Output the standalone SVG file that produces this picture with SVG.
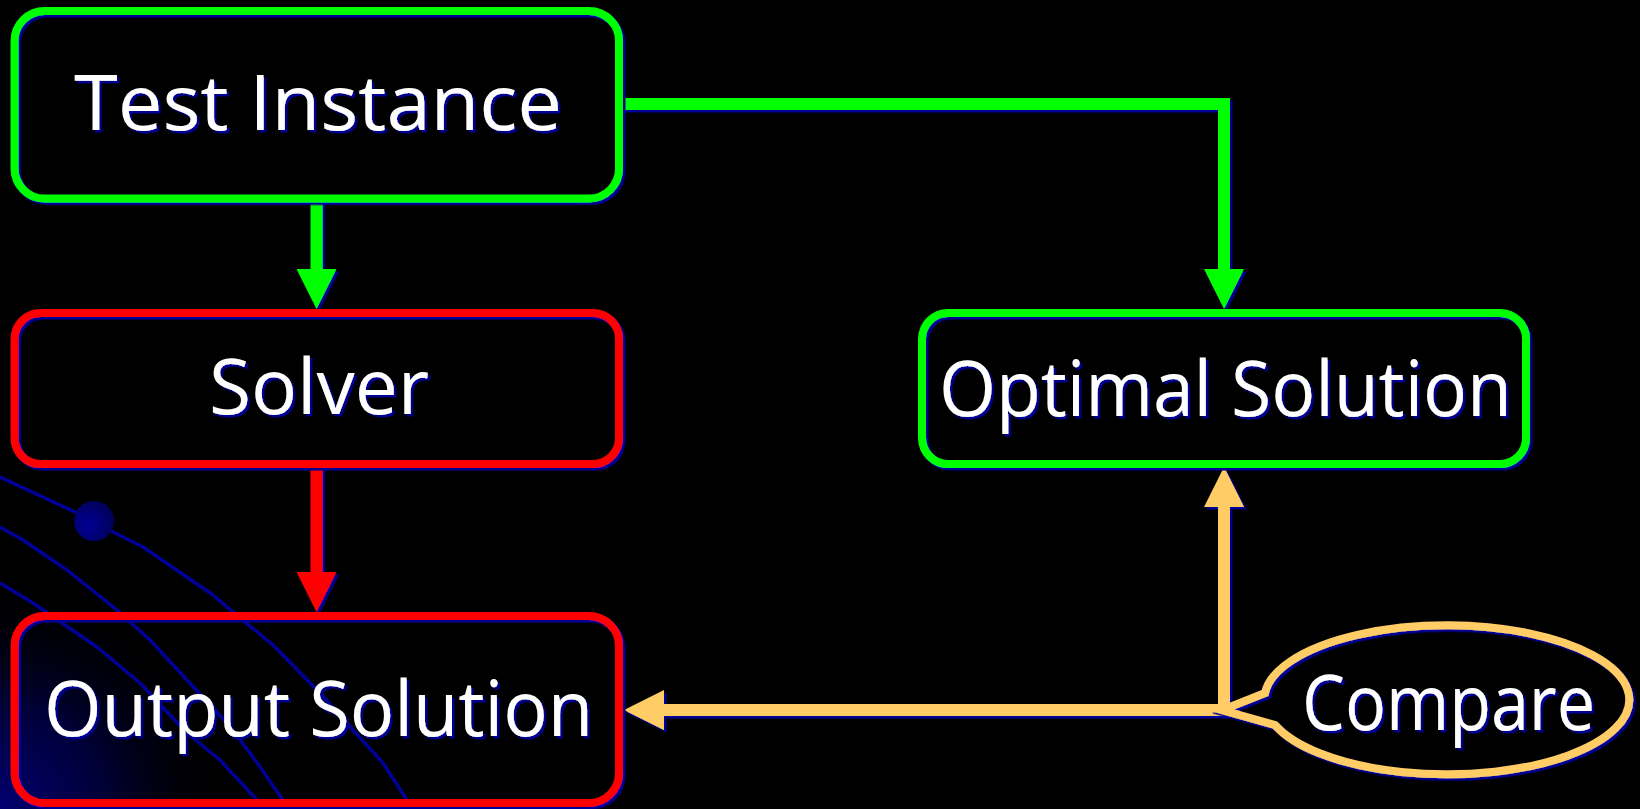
<svg xmlns="http://www.w3.org/2000/svg" width="1640" height="809" viewBox="0 0 1640 809">
  <defs>
    <style>
      .box { fill: none; stroke-width: 8; }
      .green { stroke: #00ff00; }
      .red { stroke: #ff0000; }
      .orange { stroke: #ffcc66; }
      .label { font-family: "Open Sans", "DejaVu Sans", sans-serif; font-size: 76px; fill: #ffffff; }
      .conn { fill: none; stroke-width: 12; stroke-linejoin: miter; stroke-linecap: butt; }
      .deco { fill: none; stroke: #000099; stroke-width: 3.5; stroke-linejoin: round; }
    </style>
    <!-- navy offset shadow shared by every shape and label -->
    <filter id="shadow" filterUnits="userSpaceOnUse" x="0" y="0" width="1640" height="809">
      <feDropShadow dx="2.5" dy="2.5" stdDeviation="0" flood-color="#000099" flood-opacity="1"/>
    </filter>
    <radialGradient id="cornerGlow" gradientUnits="userSpaceOnUse" cx="0" cy="809" r="230">
      <stop offset="0" stop-color="#000070"/>
      <stop offset="0.45" stop-color="#000038"/>
      <stop offset="1" stop-color="#000000" stop-opacity="0"/>
    </radialGradient>
    <radialGradient id="dotFill" cx="0.35" cy="0.6" r="0.7">
      <stop offset="0" stop-color="#000095"/>
      <stop offset="1" stop-color="#000055"/>
    </radialGradient>
    <marker id="headGreen" markerUnits="userSpaceOnUse" markerWidth="40" markerHeight="40" refX="0" refY="20" orient="auto" viewBox="0 0 40 40">
      <path d="M0,0 L40,20 L0,40 Z" fill="#00ff00"/>
    </marker>
    <marker id="headRed" markerUnits="userSpaceOnUse" markerWidth="40" markerHeight="40" refX="0" refY="20" orient="auto" viewBox="0 0 40 40">
      <path d="M0,0 L40,20 L0,40 Z" fill="#ff0000"/>
    </marker>
    <marker id="headOrange" markerUnits="userSpaceOnUse" markerWidth="40" markerHeight="40" refX="0" refY="20" orient="auto" viewBox="0 0 40 40">
      <path d="M0,0 L40,20 L0,40 Z" fill="#ffcc66"/>
    </marker>
  </defs>

  <!-- backdrop -->
  <rect x="0" y="0" width="1640" height="809" fill="#000000"/>
  <rect x="0" y="560" width="260" height="249" fill="url(#cornerGlow)"/>
  <g id="backdrop-curves">
    <path class="deco" d="M0,477 L75,512 L113,532 L143,547 L213,595 L233,612 L273,645 L320,693 L353,730 L383,763 L407,800 L413,809"/>
    <path class="deco" d="M0,527 L23,540 L67,570 L117,610 L150,640 L187,680 L227,723 L253,757 L283,800 L289,809"/>
    <path class="deco" d="M0,583 L33,603 L97,647 L140,683 L187,733 L220,760 L257,800 L263,809"/>
    <circle cx="94" cy="521" r="20" fill="url(#dotFill)"/>
  </g>

  <!-- connectors -->
  <g id="connectors" filter="url(#shadow)">
    <path class="conn green" d="M316.5,202 V269" marker-end="url(#headGreen)"/>
    <path class="conn green" d="M622,104 H1224 V269" marker-end="url(#headGreen)"/>
    <path class="conn red" d="M316.5,467 V572" marker-end="url(#headRed)"/>
    <path class="conn orange" d="M1224,716 V507" marker-end="url(#headOrange)"/>
    <path class="conn orange" d="M1230,710 H664" marker-end="url(#headOrange)"/>
  </g>

  <g id="test-instance" filter="url(#shadow)">
    <rect class="box green" x="14.5" y="11" width="604.5" height="187.5" rx="30"/>
    <text class="label" x="74" y="130" textLength="488" lengthAdjust="spacingAndGlyphs">Test Instance</text>
  </g>

  <g id="solver" filter="url(#shadow)">
    <rect class="box red" x="14.5" y="313" width="604.5" height="151" rx="26"/>
    <text class="label" x="209" y="414" textLength="220" lengthAdjust="spacingAndGlyphs">Solver</text>
  </g>

  <g id="output-solution" filter="url(#shadow)">
    <rect class="box red" x="14.5" y="616" width="604.5" height="187" rx="30"/>
    <text class="label" x="44" y="736" textLength="549" lengthAdjust="spacingAndGlyphs">Output Solution</text>
  </g>

  <g id="optimal-solution" filter="url(#shadow)">
    <rect class="box green" x="922" y="313" width="604" height="151" rx="26"/>
    <text class="label" x="939" y="416" textLength="573" lengthAdjust="spacingAndGlyphs">Optimal Solution</text>
  </g>

  <g id="compare" filter="url(#shadow)">
    <path class="box orange" stroke-linejoin="miter" d="M1265,693 L1222,710 L1275,725 A182.5 74.5 0 1 0 1265,693 Z"/>
    <text class="label" x="1302" y="730" textLength="293" lengthAdjust="spacingAndGlyphs">Compare</text>
  </g>
</svg>
